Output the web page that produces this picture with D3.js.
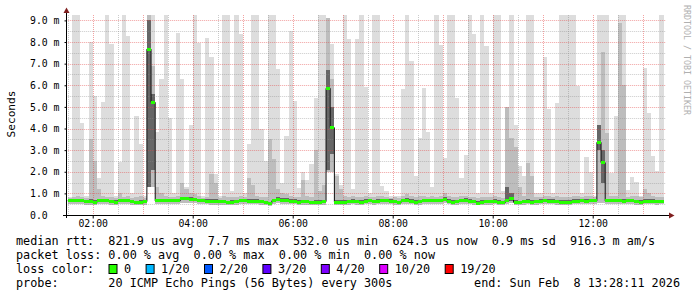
<!DOCTYPE html>
<html>
<head>
<meta charset="utf-8">
<script src="https://cdn.jsdelivr.net/npm/d3@7"></script>
<style>
  html, body { margin: 0; padding: 0; background: #fff; }
  svg text { font-family: "DejaVu Sans Mono", monospace; white-space: pre; }
</style>
</head>
<body>
<svg id="chart" width="697" height="297"></svg>
<script>
// 5 minute steps, first one starts at 01:30
const stepStart = new Date(2026, 1, 8, 1, 30, 0)
const viewStart = new Date(2026, 1, 8, 1, 28, 11)
const viewEnd = new Date(2026, 1, 8, 13, 28, 11)

// median rtt per step (ms)
const median = [
    0.66, 0.66, 0.66, 0.66, 0.62, 0.62, 0.57, 0.65, 0.65, 0.65,
    0.62, 0.60, 0.65, 0.66, 0.66, 0.62, 0.57, 0.60, 0.62, 7.67,
    5.21, 0.65, 0.65, 0.65, 0.65, 0.65, 0.65, 0.75, 0.75, 0.72,
    0.72, 0.66, 0.66, 0.63, 0.63, 0.63, 0.62, 0.62, 0.57, 0.60,
    0.62, 0.66, 0.66, 0.63, 0.63, 0.63, 0.62, 0.57, 0.532, 0.66,
    0.72, 0.69, 0.69, 0.63, 0.63, 0.60, 0.62, 0.62, 0.57, 0.60,
    0.59, 0.62, 5.86, 4.04, 0.60, 0.60, 0.59, 0.62, 0.63, 0.62,
    0.59, 0.63, 0.66, 0.62, 0.63, 0.65, 0.65, 0.63, 0.62, 0.57,
    0.66, 0.69, 0.63, 0.60, 0.62, 0.65, 0.66, 0.65, 0.65, 0.66,
    0.72, 0.63, 0.59, 0.62, 0.65, 0.69, 0.63, 0.62, 0.555, 0.59,
    0.62, 0.62, 0.63, 0.60, 0.57, 0.69, 0.75, 0.59, 0.57, 0.62,
    0.63, 0.60, 0.62, 0.63, 0.65, 0.63, 0.63, 0.62, 0.59, 0.60,
    0.60, 0.63, 0.63, 0.65, 0.63, 0.65, 0.65, 3.36, 2.42, 0.65,
    0.66, 0.65, 0.65, 0.63, 0.66, 0.65, 0.62, 0.60, 0.63, 0.63,
    0.63, 0.62, 0.624
]

// highest ping per step (ms), tall ones are cut at the top of the graph
const pingMax = [
    0.85, 9.3, 9.3, 4.24, 0.9, 8.0, 5.5, 1.7, 5.24, 9.3,
    7.9, 0.9, 2.47, 9.3, 8.27, 1.0, 4.58, 3.28, 0.9, 9.3,
    9.3, 3.85, 6.29, 9.3, 4.47, 1.0, 8.43, 6.29, 1.3, 4.16,
    9.3, 7.97, 0.9, 8.2, 7.3, 1.9, 0.9, 9.3, 9.3, 1.1,
    9.3, 8.35, 1.0, 3.28, 9.3, 9.3, 4.0, 2.5, 9.3, 9.3,
    6.73, 1.46, 3.65, 8.5, 5.28, 1.23, 2.0, 1.62, 2.36, 5.42,
    9.3, 9.3, 9.09, 7.9, 1.9, 1.4, 9.3, 8.13, 1.2, 8.13,
    9.3, 5.93, 1.0, 9.3, 9.3, 1.36, 1.1, 0.9, 0.9, 0.9,
    5.82, 9.3, 7.12, 1.8, 3.54, 5.86, 3.82, 1.31, 9.3, 7.86,
    2.65, 9.3, 9.3, 5.39, 1.7, 2.77, 9.3, 8.37, 1.0, 9.3,
    7.81, 1.0, 9.3, 9.3, 1.1, 4.98, 9.3, 4.16, 2.26, 1.8,
    9.3, 9.3, 1.0, 1.03, 7.32, 4.9, 1.0, 5.16, 9.3, 9.3,
    9.3, 9.3, 5.96, 1.0, 2.7, 2.0, 0.9, 9.3, 9.3, 9.3,
    1.96, 4.58, 9.3, 9.3, 1.15, 1.77, 1.54, 0.9, 6.78, 4.73,
    2.74, 2.03, 9.3
]

// upper edge of the denser smoke (a few pings below the max)
const pingHigh = [
    0.8, 0.85, 0.9, 0.85, 0.8, 3.5, 2.5, 1.2, 0.9, 0.85,
    0.85, 0.8, 1.0, 0.85, 0.9, 0.8, 0.85, 0.9, 0.8, 9.3,
    6.9, 1.3, 1.0, 0.9, 0.85, 0.85, 0.9, 1.46, 1.2, 1.0,
    0.95, 0.9, 0.8, 0.85, 1.9, 1.5, 0.8, 0.9, 0.85, 0.85,
    0.85, 0.9, 0.85, 1.7, 1.4, 0.9, 0.85, 0.85, 3.5, 2.6,
    1.2, 1.0, 0.95, 0.9, 0.85, 0.85, 1.6, 0.9, 0.85, 3.0,
    1.1, 1.4, 9.09, 6.3, 1.8, 1.2, 0.9, 0.85, 0.9, 0.85,
    0.85, 0.9, 0.85, 0.85, 0.9, 0.9, 0.85, 0.8, 0.85, 0.8,
    0.9, 0.95, 0.9, 0.85, 0.9, 0.9, 0.85, 0.9, 0.85, 0.9,
    1.0, 0.9, 0.85, 0.85, 0.9, 0.9, 0.85, 0.85, 0.8, 0.85,
    0.85, 0.85, 0.9, 0.85, 0.8, 4.98, 3.54, 3.16, 1.3, 0.9,
    2.42, 1.8, 0.85, 0.85, 0.9, 0.9, 0.85, 0.9, 0.85, 0.85,
    0.85, 0.9, 0.9, 0.85, 0.9, 0.9, 0.85, 4.16, 7.55, 3.77,
    0.9, 0.9, 8.9, 6.0, 0.85, 0.9, 0.9, 0.85, 1.2, 1.0,
    0.9, 0.85, 0.85
]

// dark core of the smoke around the median: top and bottom
const coreHigh = [
    0.74, 0.75, 0.75, 0.74, 0.70, 0.72, 0.68, 0.74, 0.73, 0.74,
    0.70, 0.69, 0.74, 0.75, 0.75, 0.70, 0.66, 0.69, 0.70, 9.0,
    5.6, 0.74, 0.74, 0.73, 0.74, 0.73, 0.74, 0.85, 0.84, 0.81,
    0.80, 0.75, 0.74, 0.72, 0.74, 0.72, 0.70, 0.70, 0.66, 0.69,
    0.70, 0.75, 0.74, 0.72, 0.72, 0.72, 0.70, 0.66, 0.62, 0.74,
    0.81, 0.77, 0.77, 0.72, 0.72, 0.69, 0.71, 0.70, 0.66, 0.69,
    0.68, 0.71, 6.7, 5.0, 0.69, 0.69, 0.68, 0.70, 0.72, 0.70,
    0.68, 0.72, 0.74, 0.70, 0.72, 0.73, 0.73, 0.72, 0.70, 0.66,
    0.75, 0.78, 0.72, 0.69, 0.70, 0.74, 0.75, 0.73, 0.74, 0.75,
    0.82, 0.72, 0.68, 0.70, 0.73, 0.78, 0.72, 0.70, 0.64, 0.68,
    0.70, 0.70, 0.72, 0.69, 0.66, 1.3, 1.0, 0.68, 0.66, 0.70,
    0.72, 0.69, 0.70, 0.72, 0.74, 0.72, 0.72, 0.70, 0.68, 0.69,
    0.69, 0.72, 0.72, 0.74, 0.72, 0.74, 0.74, 4.16, 3.0, 0.74,
    0.75, 0.74, 0.75, 0.72, 0.75, 0.74, 0.70, 0.69, 0.72, 0.72,
    0.72, 0.70, 0.71
]
const coreLow = [
    0.60, 0.60, 0.60, 0.60, 0.56, 0.56, 0.52, 0.59, 0.59, 0.59,
    0.56, 0.55, 0.59, 0.60, 0.60, 0.56, 0.52, 0.55, 0.56, 1.3,
    2.1, 0.59, 0.59, 0.59, 0.59, 0.59, 0.59, 0.68, 0.68, 0.66,
    0.66, 0.60, 0.60, 0.57, 0.57, 0.57, 0.56, 0.56, 0.52, 0.55,
    0.56, 0.60, 0.60, 0.57, 0.57, 0.57, 0.56, 0.52, 0.49, 0.60,
    0.66, 0.63, 0.63, 0.57, 0.57, 0.55, 0.56, 0.56, 0.52, 0.55,
    0.54, 0.56, 2.1, 2.8, 0.55, 0.55, 0.54, 0.56, 0.57, 0.56,
    0.54, 0.57, 0.60, 0.56, 0.57, 0.59, 0.59, 0.57, 0.56, 0.52,
    0.60, 0.63, 0.57, 0.55, 0.56, 0.59, 0.60, 0.59, 0.59, 0.60,
    0.66, 0.57, 0.54, 0.56, 0.59, 0.63, 0.57, 0.56, 0.51, 0.54,
    0.56, 0.56, 0.57, 0.55, 0.52, 0.62, 0.66, 0.54, 0.52, 0.56,
    0.57, 0.55, 0.56, 0.57, 0.59, 0.57, 0.57, 0.56, 0.54, 0.55,
    0.55, 0.57, 0.57, 0.59, 0.57, 0.59, 0.59, 3.0, 1.5, 0.59,
    0.60, 0.59, 0.59, 0.57, 0.60, 0.59, 0.56, 0.55, 0.57, 0.57,
    0.57, 0.56, 0.57
]

// lowest ping per step (ms)
const pingMin = [
    0.50, 0.50, 0.51, 0.50, 0.48, 0.48, 0.46, 0.50, 0.50, 0.50,
    0.48, 0.47, 0.50, 0.51, 0.50, 0.48, 0.45, 0.47, 0.48, 1.3,
    1.3, 0.50, 0.50, 0.50, 0.50, 0.50, 0.51, 0.56, 0.56, 0.55,
    0.55, 0.51, 0.50, 0.49, 0.48, 0.48, 0.48, 0.48, 0.45, 0.47,
    0.48, 0.50, 0.51, 0.49, 0.49, 0.49, 0.48, 0.45, 0.43, 0.51,
    0.55, 0.53, 0.53, 0.49, 0.49, 0.47, 0.48, 0.48, 0.45, 0.47,
    0.46, 0.48, 2.0, 2.0, 0.47, 0.47, 0.46, 0.48, 0.49, 0.48,
    0.46, 0.49, 0.50, 0.48, 0.49, 0.50, 0.50, 0.49, 0.48, 0.45,
    0.50, 0.53, 0.49, 0.47, 0.48, 0.50, 0.51, 0.50, 0.50, 0.51,
    0.55, 0.49, 0.46, 0.48, 0.50, 0.53, 0.49, 0.48, 0.44, 0.46,
    0.48, 0.48, 0.49, 0.47, 0.45, 0.52, 0.55, 0.46, 0.45, 0.48,
    0.49, 0.47, 0.48, 0.49, 0.50, 0.49, 0.49, 0.48, 0.46, 0.47,
    0.47, 0.49, 0.49, 0.50, 0.49, 0.50, 0.50, 0.55, 0.55, 0.50,
    0.51, 0.50, 0.50, 0.49, 0.51, 0.50, 0.48, 0.47, 0.49, 0.49,
    0.49, 0.48, 0.49
]

const yTickValues = [0, 1, 2, 3, 4, 5, 6, 7, 8, 9]
const yTickLabels = ['0.0', '1.0 m', '2.0 m', '3.0 m', '4.0 m', '5.0 m', '6.0 m', '7.0 m', '8.0 m', '9.0 m']
const xTickHours = [2, 4, 6, 8, 10, 12]

const lossLabels = ['0', '1/20', '2/20', '3/20', '4/20', '10/20', '19/20']
const lossColors = ['#26ff00', '#00b8ff', '#0059ff', '#5e00ff', '#7e00ff', '#dd00ff', '#ff0000']

const legendLines = [
    'median rtt:  821.9 us avg  7.7 ms max  532.0 us min  624.3 us now  0.9 ms sd  916.3 m am/s',
    'packet loss: 0.00 % avg  0.00 % max  0.00 % min  0.00 % now'
]
const probeText = 'probe:       20 ICMP Echo Pings (56 Bytes) every 300s'
const endText = 'end: Sun Feb  8 13:28:11 2026'

const plotLeft = 66.2
const plotRight = 666.2
const plotTop = 15
const plotBottom = 215

const svg = d3.select('#chart')

svg.append('rect')
    .attr('width', 697)
    .attr('height', 297)
    .attr('fill', '#fff')

const x = d3.scaleTime()
    .domain([viewStart, viewEnd])
    .range([plotLeft, plotRight])

const y = d3.scaleLinear()
    .domain([0, 9.25])
    .range([plotBottom, plotTop])
    .clamp(true)

// one row per step, plus a closing row so the last step gets its width
const rows = median.map((m, i) => ({
    t: d3.timeMinute.offset(stepStart, i * 5),
    median: m,
    max: pingMax[i],
    high: pingHigh[i],
    coreHigh: coreHigh[i],
    coreLow: coreLow[i],
    min: pingMin[i]
}))
const closed = rows.concat([Object.assign({}, rows[rows.length - 1], {
    t: d3.timeMinute.offset(stepStart, rows.length * 5)
})])

const smoke = [
    { lo: 'min', hi: 'max', color: '#dddddd' },
    { lo: 'min', hi: 'high', color: '#bdbdbd' },
    { lo: 'coreLow', hi: 'coreHigh', color: '#666666' }
]

smoke.forEach(layer => {
    svg.append('path')
        .datum(closed)
        .attr('fill', layer.color)
        .attr('shape-rendering', 'crispEdges')
        .attr('d', d3.area()
            .curve(d3.curveStepAfter)
            .x(d => x(d.t))
            .y0(d => y(d[layer.lo]))
            .y1(d => y(d[layer.hi])))
})

// grid
const grid = svg.append('g')
const minorY = d3.range(0.5, 9.01, 1)
const minorX = d3.timeMinute.every(30).range(viewStart, viewEnd).filter(d => d.getMinutes() === 30)
const majorX = d3.timeHour.range(viewStart, viewEnd)

grid.selectAll('.gy')
    .data(minorY)
    .enter()
    .append('line')
    .attr('x1', plotLeft).attr('x2', plotRight)
    .attr('y1', d => Math.round(y(d)) + 0.5).attr('y2', d => Math.round(y(d)) + 0.5)
    .attr('stroke', 'rgba(140,140,140,0.45)')
    .attr('stroke-dasharray', '1,1')

grid.selectAll('.gx')
    .data(minorX)
    .enter()
    .append('line')
    .attr('x1', d => Math.round(x(d)) + 0.5).attr('x2', d => Math.round(x(d)) + 0.5)
    .attr('y1', plotTop).attr('y2', plotBottom)
    .attr('stroke', 'rgba(140,140,140,0.45)')
    .attr('stroke-dasharray', '1,1')

grid.selectAll('.my')
    .data(yTickValues.slice(1))
    .enter()
    .append('line')
    .attr('x1', plotLeft).attr('x2', plotRight)
    .attr('y1', d => Math.round(y(d)) + 0.5).attr('y2', d => Math.round(y(d)) + 0.5)
    .attr('stroke', 'rgba(230,70,70,0.5)')
    .attr('stroke-dasharray', '1,1')

grid.selectAll('.mx')
    .data(majorX)
    .enter()
    .append('line')
    .attr('x1', d => Math.round(x(d)) + 0.5).attr('x2', d => Math.round(x(d)) + 0.5)
    .attr('y1', plotTop).attr('y2', plotBottom)
    .attr('stroke', 'rgba(230,70,70,0.5)')
    .attr('stroke-dasharray', '1,1')

// median: dark step line plus a coloured bar per step (no loss -> green)
svg.append('path')
    .datum(closed)
    .attr('fill', 'none')
    .attr('stroke', '#111')
    .attr('stroke-width', 1)
    .attr('d', d3.line()
        .curve(d3.curveStepAfter)
        .x(d => x(d.t))
        .y(d => y(d.median)))

svg.selectAll('.med')
    .data(rows)
    .enter()
    .append('rect')
    .attr('x', d => x(d.t))
    .attr('width', d => x(d3.timeMinute.offset(d.t, 5)) - x(d.t))
    .attr('y', d => y(d.median) - 1.5)
    .attr('height', 3)
    .attr('fill', lossColors[0])
    .attr('shape-rendering', 'crispEdges')

// axes
const yAxis = svg.append('g')
    .attr('transform', 'translate(66.5,0)')
    .call(d3.axisLeft(y)
        .tickValues(yTickValues)
        .tickFormat((d, i) => yTickLabels[i])
        .tickSize(2))
yAxis.select('.domain').remove()
yAxis.selectAll('text')
    .attr('text-anchor', 'start')
    .attr('x', -36.5)
    .attr('font-size', '9.8px')
    .attr('font-family', '"DejaVu Sans Mono", monospace')
    .attr('fill', '#000')

const xAxis = svg.append('g')
    .attr('transform', 'translate(0,215.5)')
    .call(d3.axisBottom(x)
        .tickValues(xTickHours.map(h => new Date(2026, 1, 8, h, 0, 0)))
        .tickFormat(d3.timeFormat('%H:%M'))
        .tickSize(3)
        .tickPadding(1.5))
xAxis.select('.domain').remove()
xAxis.selectAll('text')
    .attr('font-size', '9.8px')
    .attr('font-family', '"DejaVu Sans Mono", monospace')
    .attr('fill', '#000')

svg.append('line')
    .attr('x1', 63).attr('x2', 670)
    .attr('y1', 215.5).attr('y2', 215.5)
    .attr('stroke', '#000')
svg.append('line')
    .attr('x1', 66.5).attr('x2', 66.5)
    .attr('y1', 218).attr('y2', 11)
    .attr('stroke', '#000')

svg.append('path')
    .attr('d', 'M66.5,7.5 L63.5,13 L69.5,13 Z')
    .attr('fill', '#7f1f1f')
svg.append('path')
    .attr('d', 'M674.5,215.5 L669,212.5 L669,218.5 Z')
    .attr('fill', '#7f1f1f')

svg.append('text')
    .attr('transform', 'translate(15,114) rotate(-90)')
    .attr('text-anchor', 'middle')
    .attr('font-size', '11.2px')
    .text('Seconds')

svg.append('text')
    .attr('transform', 'translate(684,5) rotate(90)')
    .attr('font-size', '8.3px')
    .attr('fill', '#b0b0b0')
    .text('RRDTOOL / TOBI OETIKER')

// legend
const legendFont = 11.8
const charW = 7.1

legendLines.forEach((line, i) => {
    svg.append('text')
        .attr('x', 16)
        .attr('y', 245 + i * 14)
        .attr('font-size', legendFont + 'px')
        .attr('xml:space', 'preserve')
        .text(line)
})

svg.append('text')
    .attr('x', 16)
    .attr('y', 273)
    .attr('font-size', legendFont + 'px')
    .text('loss color:')

let lx = 108.5
lossLabels.forEach((label, i) => {
    svg.append('rect')
        .attr('x', lx + 0.5)
        .attr('y', 264.5)
        .attr('width', 8)
        .attr('height', 9)
        .attr('fill', lossColors[i])
        .attr('stroke', '#000')
        .attr('stroke-width', 1)
    svg.append('text')
        .attr('x', lx + 15.5)
        .attr('y', 273)
        .attr('font-size', legendFont + 'px')
        .text(label)
    lx += 15.5 + label.length * charW + 14.5
})

svg.append('text')
    .attr('x', 16)
    .attr('y', 287)
    .attr('font-size', legendFont + 'px')
    .attr('xml:space', 'preserve')
    .text(probeText)

svg.append('text')
    .attr('x', 680)
    .attr('y', 287)
    .attr('text-anchor', 'end')
    .attr('font-size', legendFont + 'px')
    .attr('xml:space', 'preserve')
    .text(endText)
</script>
</body>
</html>
